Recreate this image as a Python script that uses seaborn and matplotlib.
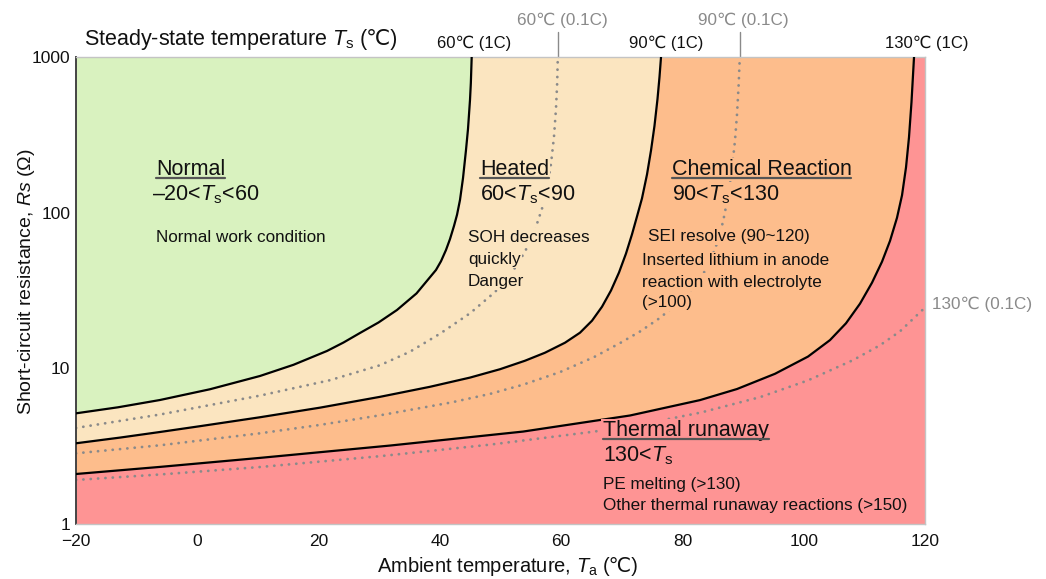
import matplotlib
matplotlib.use("Agg")
import matplotlib.pyplot as plt
import seaborn as sns
from matplotlib.lines import Line2D

# Iso-temperature boundaries: ambient temperature Ta (°C) vs short-circuit resistance Rs (Ω)
ta_60_1c = [-20, -13.07, -6.15, 2.10, 10.34, 15.87, 21.39, 24.11, 26.83, 29.88, 32.93, 36.15,
            39.36, 40.19, 41.01, 41.67, 42.33, 42.83, 43.32, 43.82, 44.31, 44.64, 44.97, 45.11,
            45.25]
rs_60_1c = [5.14, 5.62, 6.26, 7.34, 8.93, 10.54, 12.93, 14.65, 16.87, 19.70, 23.70, 30.29,
            42.83, 48.77, 57.56, 67.66, 82.13, 96.9, 120.6, 167.0, 252.6, 344.6, 529.3, 680.7,
            1000]

ta_90_1c = [-20, -12.74, -6.15, 0.45, 10.34, 20.24, 30.13, 38.37, 44.97, 49.92, 54.04, 57.34,
            60.64, 63.11, 65.09, 66.74, 68.22, 69.54, 70.69, 71.68, 72.51, 73.33, 74.16, 74.82,
            75.39, 75.89, 76.22, 76.47]
rs_90_1c = [3.30, 3.59, 3.90, 4.25, 4.85, 5.59, 6.56, 7.61, 8.72, 9.87, 11.19, 12.60,
            14.61, 16.94, 20.23, 24.88, 31.62, 41.26, 54.58, 72.5, 94.6, 123.5, 176.1, 251.2,
            360.9, 538.0, 745, 1000]

ta_130_1c = [-20, -6.15, 10.34, 31.78, 53.71, 71.35, 82.90, 89.0, 95.26, 100.71, 104.33,
             106.97, 109.28, 111.26, 112.91, 114.23, 115.38, 116.21, 116.87, 117.36, 117.77,
             118.02, 118.19]
rs_130_1c = [2.095, 2.327, 2.659, 3.191, 3.924, 4.977, 6.251, 7.364, 9.223, 11.90, 15.18,
             19.47, 26.02, 35.49, 48.42, 65.87, 92.68, 129.3, 195.6, 304.9, 511.6, 762.7, 1000]

ta_60_01c = [-20, -6.15, 10.34, 21.88, 30.13, 35.08, 40.02, 44.97, 49.09, 51.90, 54.04, 55.69,
             56.84, 57.67, 58.33, 58.82, 59.15, 59.35, 59.45]
rs_60_01c = [4.14, 5.05, 6.68, 8.39, 10.47, 12.79, 16.69, 22.57, 30.91, 41.26, 56.14, 77.7,
             106.0, 144.7, 206.3, 307.6, 465.6, 687.9, 1000]

ta_90_01c = [-20, -6.15, 10.34, 20.24, 30.13, 41.84, 48.27, 53.71, 59.81, 65.42, 69.71, 73.0,
             76.30, 80.42, 82.9, 84.55, 85.70, 86.69, 87.51, 88.17, 88.67, 89.0, 89.28, 89.46]
rs_90_01c = [2.845, 3.203, 3.825, 4.331, 4.992, 6.033, 6.851, 7.850, 9.458, 11.81, 14.53,
             17.24, 21.09, 28.77, 37.13, 48.45, 63.42, 87.30, 126.4, 191.1, 291.4, 428.1,
             673.2, 1000]

ta_130_01c = [-20, -6.15, 10.34, 30.13, 48.27, 65.42, 74.65, 83.06, 92.79, 100.71, 108.13,
              112.58, 115.88, 120]
rs_130_01c = [1.918, 2.080, 2.323, 2.727, 3.234, 3.921, 4.475, 5.203, 6.528, 8.370, 11.29,
              14.07, 17.29, 24.58]

x_ticks = [-20, 0, 20, 40, 60, 80, 100, 120]
y_ticks = [1, 10, 100, 1000]
y_tick_labels = ["1", "10", "100", "1000"]

C_NORMAL = "#d9f2bf"
C_HEATED = "#fbe5c0"
C_CHEM = "#fdbd8c"
C_RUNAWAY = "#fe9494"
C_GREY = "#8a8a8a"
C_TEXT = "#111111"

sns.set_theme(style="white")
plt.rcParams["font.family"] = ["Liberation Sans", "DejaVu Sans"]
plt.rcParams["mathtext.fontset"] = "custom"
plt.rcParams["mathtext.rm"] = "Liberation Sans"
plt.rcParams["mathtext.it"] = "Liberation Sans:italic"
plt.rcParams["axes.unicode_minus"] = True

W, H = 1046, 579
fig = plt.figure(figsize=(W / 100, H / 100), dpi=100)
ax = fig.add_axes([76 / W, 1 - 524 / H, 849 / W, 467 / H])
ax.set_facecolor(C_RUNAWAY)

# Region fills, stacked from the hottest boundary inward
ax.fill_betweenx(rs_130_1c, -20, ta_130_1c, color=C_CHEM, lw=0, zorder=1)
ax.fill_betweenx(rs_90_1c, -20, ta_90_1c, color=C_HEATED, lw=0, zorder=1)
ax.fill_betweenx(rs_60_1c, -20, ta_60_1c, color=C_NORMAL, lw=0, zorder=1)

# 0.1C boundaries (dotted)
for ta, rs in [(ta_60_01c, rs_60_01c), (ta_90_01c, rs_90_01c), (ta_130_01c, rs_130_01c)]:
    sns.lineplot(x=ta, y=rs, ax=ax, color=C_GREY, lw=2.0, sort=False, estimator=None,
                 linestyle=(0, (0.05, 2.6)), dash_capstyle="round", zorder=2)

# 1C boundaries (solid)
for ta, rs in [(ta_60_1c, rs_60_1c), (ta_90_1c, rs_90_1c), (ta_130_1c, rs_130_1c)]:
    sns.lineplot(x=ta, y=rs, ax=ax, color="black", lw=1.6, sort=False, estimator=None,
                 solid_joinstyle="round", zorder=3)

ax.set_yscale("log")
ax.set_xlim(-20, 120)
ax.set_ylim(1, 1000)
ax.set_xticks(x_ticks)
ax.set_yticks(y_ticks)
ax.set_yticklabels(y_tick_labels)
ax.minorticks_off()
ax.tick_params(length=0, labelsize=12.5, colors=C_TEXT)
ax.tick_params(axis="x", pad=7)
ax.tick_params(axis="y", pad=4)
for side, sp in ax.spines.items():
    sp.set_visible(True)
    sp.set_color("#c4c4c4")
    sp.set_linewidth(1.0)
ax.spines["left"].set_color("#444444")
ax.spines["left"].set_linewidth(1.4)

ax.set_ylabel(r"Short-circuit resistance, $\mathit{Rs}$ (Ω)", fontsize=14, color=C_TEXT)
ax.yaxis.set_label_coords(-0.046, 0.52)

# Region annotations
heads = []


def note(x, y, s, size, bg, head=False):
    t = ax.text(x, y, s, fontsize=size, ha="left", va="baseline", color=C_TEXT, zorder=5,
                bbox=dict(facecolor=bg, edgecolor="none", pad=1.0))
    if head:
        heads.append((t, x, y))
    return t


note(-6.8, 174.6, "Normal", 15.5, C_NORMAL, head=True)
note(-7.5, 120.6, r"–20<$T_\mathrm{s}$<60", 15.5, C_NORMAL)
note(-6.8, 65.1, "Normal work condition", 12.3, C_NORMAL)

note(46.6, 174.6, "Heated", 15.5, C_HEATED, head=True)
note(46.6, 120.6, r"60<$T_\mathrm{s}$<90", 15.5, C_HEATED)
note(44.6, 65.1, "SOH decreases", 12.3, C_HEATED)
note(44.6, 47.1, "quickly", 12.3, C_HEATED)
note(44.6, 34.0, "Danger", 12.3, C_HEATED)

note(78.2, 174.6, "Chemical Reaction", 15.5, C_CHEM, head=True)
note(78.2, 120.6, r"90<$T_\mathrm{s}$<130", 15.5, C_CHEM)
note(74.3, 66.1, "SEI resolve (90~120)", 12.3, C_CHEM)
note(73.3, 46.1, "Inserted lithium in anode", 12.3, C_CHEM)
note(73.3, 33.4, "reaction with electrolyte", 12.3, C_CHEM)
note(73.3, 24.9, "(>100)", 12.3, C_CHEM)

note(66.85, 3.68, "Thermal runaway", 15.5, C_RUNAWAY, head=True)
note(66.85, 2.51, r"130<$T_\mathrm{s}$", 15.5, C_RUNAWAY)
note(66.85, 1.68, "PE melting (>130)", 12.3, C_RUNAWAY)
note(66.85, 1.23, "Other thermal runaway reactions (>150)", 12.3, C_RUNAWAY)

# Labels above the plot
xaxis_tr = ax.get_xaxis_transform()
for xc, s in [(45.7, "60℃ (1C)"), (77.4, "90℃ (1C)"), (120.25, "130℃ (1C)")]:
    ax.text(xc, 1 + 9 / 467, s, fontsize=12, ha="center", va="baseline",
            transform=xaxis_tr, color=C_TEXT, clip_on=False)
for xc, xt, s in [(59.45, 60.2, "60℃ (0.1C)"), (89.46, 90.1, "90℃ (0.1C)")]:
    ax.plot([xc, xc], [1.0, 1 + 25 / 467], color=C_GREY, lw=1.0, transform=xaxis_tr,
            clip_on=False)
    ax.text(xt, 1 + 32 / 467, s, fontsize=12.3, ha="center", va="baseline",
            transform=xaxis_tr, color=C_GREY, clip_on=False)
ax.text(121.1, 24.0, "130℃ (0.1C)", fontsize=12.3, ha="left", va="baseline",
        color=C_GREY, clip_on=False)

# Texts that mix italic symbols with ℃: the symbol part and the unit part are set side by side
title_a = fig.text(84 / W, 1 - 45 / H, r"Steady-state temperature $T_\mathrm{s}$", fontsize=15.5,
                   ha="left", va="baseline", color=C_TEXT)
title_b = fig.text(0, 1 - 45 / H, "(℃)", fontsize=15.5, ha="left", va="baseline", color=C_TEXT)
xlab_a = fig.text(0, 1 - 572 / H, r"Ambient temperature, $T_\mathrm{a}$", fontsize=14.5,
                  ha="left", va="baseline", color=C_TEXT)
xlab_b = fig.text(0, 1 - 572 / H, "(℃)", fontsize=14.5, ha="left", va="baseline", color=C_TEXT)

fig.canvas.draw()
bb = title_a.get_window_extent()
title_b.set_x((bb.x1 + 5) / W)
wa = xlab_a.get_window_extent().width
wb = xlab_b.get_window_extent().width
left = 508 - (wa + 5 + wb) / 2
xlab_a.set_x(left / W)
xlab_b.set_x((left + wa + 5) / W)

# Underline the region headings
for t, x, y in heads:
    bb = t.get_window_extent()
    yb = ax.transData.transform((x, y))[1] - 3
    fig.add_artist(Line2D([bb.x0 / W, bb.x1 / W], [yb / H, yb / H], color="#555555",
                          lw=1.6, transform=fig.transFigure, zorder=6))

fig.savefig("out.png", dpi=100)
